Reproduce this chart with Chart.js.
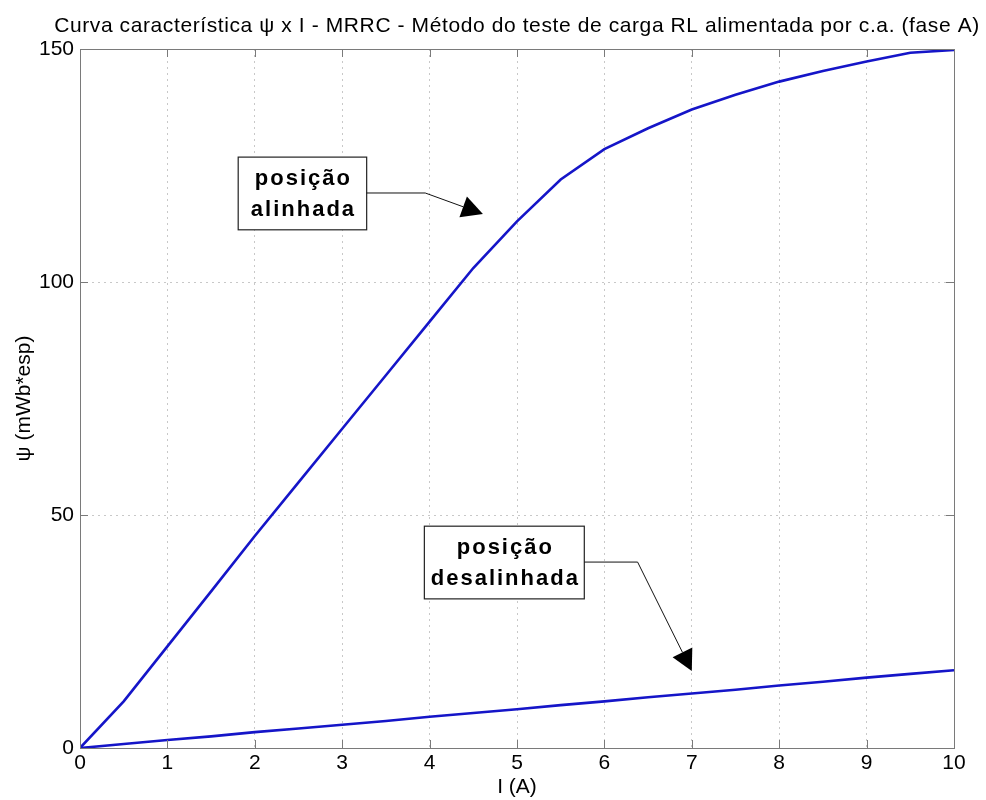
<!DOCTYPE html>
<html lang="pt">

<head>
    <meta charset="UTF-8">
    <title>Curva característica ψ x I - MRRC</title>
    <script src="https://cdn.jsdelivr.net/npm/chart.js"></script>
    <style>
        body { margin: 0; background: #fff; }
        #wrap { width: 986px; height: 800px; }
    </style>
</head>

<body>
    <div id="wrap">
        <canvas id="fluxChart" width="986" height="800"></canvas>
    </div>

    <script>
        // corrente I (A)
        const corrente = [0, 0.5, 1, 1.5, 2, 2.5, 3, 3.5, 4, 4.5, 5, 5.5, 6, 6.5, 7, 7.5, 8, 8.5, 9, 9.5, 10];
        // fluxo concatenado psi (mWb*esp)
        const psiAlinhada = [0, 10, 21.8, 33.6, 45.5, 57, 68.5, 80, 91.5, 103, 113, 122, 128.5, 133, 137, 140.2, 143, 145.3, 147.3, 149.2, 149.8];
        const psiDesalinhada = [0, 0.85, 1.7, 2.5, 3.4, 4.2, 5.0, 5.8, 6.7, 7.5, 8.3, 9.2, 10.0, 10.9, 11.7, 12.5, 13.4, 14.2, 15.1, 15.9, 16.7];

        const xTicks = [0, 1, 2, 3, 4, 5, 6, 7, 8, 9, 10];
        const yTicks = [0, 50, 100, 150];

        const titulo = 'Curva característica ψ x I - MRRC - Método do teste de carga RL alimentada por c.a. (fase A)';

        const FONT = "'Liberation Sans', Arial, sans-serif";
        const AXIS_GRAY = '#7a7a7a';

        // caixas de texto com seta (coordenadas em unidades dos eixos)
        const notas = [
            { linhas: ['posição', 'alinhada'], x1: 1.81, x2: 3.28, y1: 126.8, y2: 111.2, cotovelo: [3.95, 119.1], ponta: [4.61, 114.6] },
            { linhas: ['posição', 'desalinhada'], x1: 3.94, x2: 5.77, y1: 47.6, y2: 32.0, cotovelo: [6.38, 39.9], ponta: [7.0, 16.5] }
        ];

        const moldura = {
            id: 'moldura',
            afterDatasetsDraw(chart) {
                const { ctx, chartArea: a, scales } = chart;
                ctx.save();
                ctx.strokeStyle = AXIS_GRAY;
                ctx.lineWidth = 1;
                ctx.strokeRect(a.left + 0.5, a.top + 0.5, a.right - a.left, a.bottom - a.top);
                ctx.beginPath();
                xTicks.forEach(v => {
                    const px = Math.round(scales.x.getPixelForValue(v)) + 0.5;
                    ctx.moveTo(px, a.bottom); ctx.lineTo(px, a.bottom - 8);
                    ctx.moveTo(px, a.top); ctx.lineTo(px, a.top + 8);
                });
                yTicks.forEach(v => {
                    const py = Math.round(scales.y.getPixelForValue(v)) + 0.5;
                    ctx.moveTo(a.left, py); ctx.lineTo(a.left + 8, py);
                    ctx.moveTo(a.right, py); ctx.lineTo(a.right - 8, py);
                });
                ctx.stroke();
                ctx.restore();
            },
            afterDraw(chart) {
                const { ctx, chartArea: a, scales } = chart;
                const X = v => scales.x.getPixelForValue(v);
                const Y = v => scales.y.getPixelForValue(v);
                ctx.save();

                // titulo
                ctx.fillStyle = '#000';
                ctx.font = '21px ' + FONT;
                ctx.letterSpacing = '0.6px';
                ctx.textAlign = 'center';
                ctx.textBaseline = 'alphabetic';
                ctx.fillText(titulo, (a.left + a.right) / 2, 32);

                notas.forEach(n => {
                    const l = X(n.x1), r = X(n.x2), t = Y(n.y1), b = Y(n.y2);
                    ctx.fillStyle = '#fff';
                    ctx.fillRect(l, t, r - l, b - t);
                    ctx.strokeStyle = '#222';
                    ctx.lineWidth = 1.2;
                    ctx.strokeRect(l, t, r - l, b - t);

                    ctx.fillStyle = '#000';
                    ctx.font = 'bold 22px ' + FONT;
                    ctx.letterSpacing = '2px';
                    ctx.textAlign = 'center';
                    ctx.textBaseline = 'middle';
                    const cx = (l + r) / 2, cy = (t + b) / 2;
                    ctx.fillText(n.linhas[0], cx + 1, cy - 15);
                    ctx.fillText(n.linhas[1], cx + 1, cy + 16);

                    // linha com cotovelo
                    const ex = X(n.cotovelo[0]), ey = Y(n.cotovelo[1]);
                    const tx = X(n.ponta[0]), ty = Y(n.ponta[1]);
                    ctx.strokeStyle = '#111';
                    ctx.lineWidth = 1;
                    ctx.beginPath();
                    ctx.moveTo(r, ey);
                    ctx.lineTo(ex, ey);
                    const ang = Math.atan2(ty - ey, tx - ex);
                    const len = 21, half = 11;
                    const bx = tx - len * Math.cos(ang), by = ty - len * Math.sin(ang);
                    ctx.lineTo(bx, by);
                    ctx.stroke();
                    ctx.fillStyle = '#000';
                    ctx.beginPath();
                    ctx.moveTo(tx, ty);
                    ctx.lineTo(bx + half * Math.sin(ang), by - half * Math.cos(ang));
                    ctx.lineTo(bx - half * Math.sin(ang), by + half * Math.cos(ang));
                    ctx.closePath();
                    ctx.fill();
                });
                ctx.restore();
            }
        };

        const ctx = document.getElementById('fluxChart').getContext('2d');

        const chart = new Chart(ctx, {
            type: 'line',
            data: {
                datasets: [{
                    label: 'posição alinhada',
                    data: corrente.map((x, i) => ({ x, y: psiAlinhada[i] })),
                    borderColor: '#1515c8',
                    borderWidth: 2.6,
                    pointRadius: 0,
                    tension: 0
                }, {
                    label: 'posição desalinhada',
                    data: corrente.map((x, i) => ({ x, y: psiDesalinhada[i] })),
                    borderColor: '#1515c8',
                    borderWidth: 2.6,
                    pointRadius: 0,
                    tension: 0
                }]
            },
            options: {
                responsive: false,
                animation: false,
                events: [],
                layout: { padding: { left: 0, right: 32, top: 49, bottom: 0 } },
                plugins: {
                    legend: { display: false },
                    tooltip: { enabled: false },
                    title: { display: false }
                },
                scales: {
                    x: {
                        type: 'linear',
                        min: 0,
                        max: 10,
                        afterBuildTicks: s => { s.ticks = xTicks.map(v => ({ value: v })); },
                        afterFit: s => { s.height = 52; },
                        ticks: { color: '#000', font: { family: FONT, size: 21 }, padding: 3, maxRotation: 0 },
                        grid: { color: '#c8c8c8', drawTicks: false, tickLength: 0 },
                        border: { display: false, dash: [2, 4] },
                        title: { display: true, text: 'I (A)', color: '#000', font: { family: FONT, size: 21 }, padding: { top: 0, bottom: 0 } }
                    },
                    y: {
                        type: 'linear',
                        min: 0,
                        max: 150,
                        afterBuildTicks: s => { s.ticks = yTicks.map(v => ({ value: v })); },
                        afterFit: s => { s.width = 80; },
                        ticks: { color: '#000', font: { family: FONT, size: 21 }, padding: 6 },
                        grid: { color: '#c8c8c8', drawTicks: false, tickLength: 0 },
                        border: { display: false, dash: [2, 4] },
                        title: { display: true, text: 'ψ (mWb*esp)', color: '#000', font: { family: FONT, size: 21 }, padding: { top: 12, bottom: 0 } }
                    }
                }
            },
            plugins: [moldura]
        });
    </script>
</body>

</html>
